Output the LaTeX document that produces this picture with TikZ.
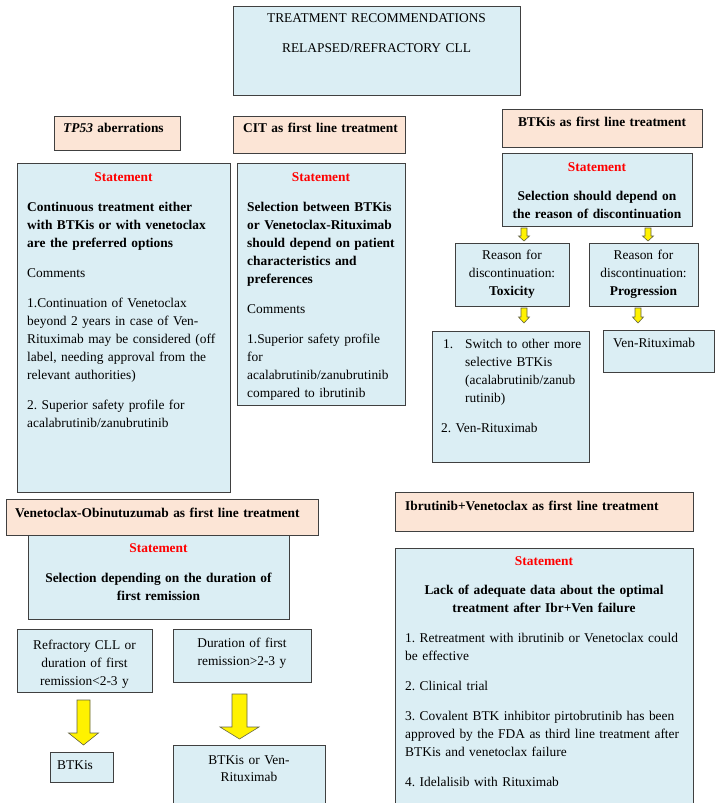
\documentclass[tikz,border=0pt]{standalone}
\usepackage{fontspec}
\setmainfont{Liberation Serif}
\usetikzlibrary{calc}
\frenchspacing
\definecolor{boxblue}{RGB}{219,238,244}
\definecolor{boxpeach}{RGB}{252,229,214}
\definecolor{edgecol}{RGB}{64,64,64}
\definecolor{arrowedge}{RGB}{100,100,70}
\newcommand\yarrow[8]{% #1 x, #2 from, #3 to, #4 top gap, #5 tip gap, #6 half shaft, #7 half head, #8 head length
  \draw[yarr] let \p1=(#2.south), \p2=(#3.north) in
   ({#1pt-#6pt},{\y1-#4pt}) -- ({#1pt+#6pt},{\y1-#4pt}) -- ({#1pt+#6pt},{\y2+#5pt+#8pt})
   -- ({#1pt+#7pt},{\y2+#5pt+#8pt}) -- ({#1pt},{\y2+#5pt}) -- ({#1pt-#7pt},{\y2+#5pt+#8pt})
   -- ({#1pt-#6pt},{\y2+#5pt+#8pt}) -- cycle;}
\begin{document}
\begin{tikzpicture}[x=1pt,y=-1pt,
 bx/.style={draw=edgecol, line width=1pt, rectangle, inner sep=0pt, anchor=north west, fill=boxblue},
 hd/.style={bx, fill=boxpeach},
 txt/.style={inner sep=0pt, font=\fontsize{13.4}{18}\selectfont\frenchspacing, text=black},
 tl/.style={txt, anchor=base west, align=left, text width=#1},
 tc/.style={txt, anchor=base, align=center, text width=#1},
 red/.style={text=red, font=\fontsize{13.4}{18}\selectfont\bfseries},
 yarr/.style={draw=arrowedge, line width=0.6pt, fill=yellow, line join=miter}
]
\clip (0,0) rectangle (720,803);
\fill[white] (0,0) rectangle (720,803);

% title
\node[bx, minimum width=287pt, minimum height=89pt] (title) at (233,6) {};
\node[tc=280pt] (titletxt) at (376.5,22.5) {TREATMENT RECOMMENDATIONS\\[12pt]RELAPSED/REFRACTORY CLL};

% TP53
\node[hd, minimum width=126pt, minimum height=34pt] (h1) at (54,116) {};
\node[tl=120pt] (h1t) at (63,132.5) {\bfseries\textit{TP53} aberrations};
\node[bx, minimum width=213pt, minimum height=329pt] (s1) at (17,163) {};
\node[tc=200pt, red] (s1a) at (123.5,181.5) {Statement};
\node[tl=205pt] (s1b) at (27,211.5) {\bfseries Continuous treatment either\\with BTKis or with venetoclax\\are the preferred options\\[12pt]\mdseries Comments\\[12pt]1.Continuation of Venetoclax\\beyond 2 years in case of Ven-\\Rituximab may be considered (off\\label, needing approval from the\\relevant authorities)\\[12pt]2. Superior safety profile for\\acalabrutinib/zanubrutinib};

% CIT
\node[hd, minimum width=172pt, minimum height=37pt] (h2) at (233,116) {};
\node[tl=165pt] (h2t) at (243,132.5) {\bfseries CIT as first line treatment};
\node[bx, minimum width=168pt, minimum height=242pt] (s2) at (237,163) {};
\node[tc=160pt, red] (s2a) at (321,181.5) {Statement};
\node[tl=160pt] (s2b) at (247,211.5) {\bfseries Selection between BTKis\\or Venetoclax-Rituximab\\should depend on patient\\characteristics and\\preferences\\[12pt]\mdseries Comments\\[12pt]1.Superior safety profile\\for\\acalabrutinib/zanubrutinib\\compared to ibrutinib};

% BTKi
\node[hd, minimum width=200pt, minimum height=38pt] (h3) at (502,109) {};
\node[tc=195pt] (h3t) at (602,126.5) {\bfseries BTKis as first line treatment};
\node[bx, minimum width=190pt, minimum height=73pt] (s3) at (502,153) {};
\node[tc=188pt, red] (s3a) at (597,171.5) {Statement};
\node[tc=188pt] (s3b) at (597,200.5) {\bfseries Selection should depend on\\the reason of discontinuation};

\node[bx, minimum width=114pt, minimum height=63pt] (tox) at (455,243) {};
\node[tc=112pt] (toxt) at (512,259.5) {Reason for\\discontinuation:\\\textbf{Toxicity}};
\node[bx, minimum width=109pt, minimum height=63pt] (prog) at (589,243) {};
\node[tc=108pt] (progt) at (643.5,259.5) {Reason for\\discontinuation:\\\textbf{Progression}};

\node[bx, minimum width=157pt, minimum height=131pt] (sw) at (432,331) {};
\node[tl=20pt] (sw1) at (443,348.5) {1.};
\node[tl=122pt] (sw2) at (465,348.5) {Switch to other more\\selective BTKis\\(acalabrutinib/zanub\\rutinib)};
\node[tl=140pt] (sw3) at (441,432.5) {2. Ven-Rituximab};
\node[bx, minimum width=111pt, minimum height=42pt] (vr) at (603,330) {};
\node[tl=100pt] (vrt) at (613,347.5) {Ven-Rituximab};

\yarrow{524}{s3}{tox}{1}{2}{3}{5.5}{5}
\yarrow{648}{s3}{prog}{1}{2}{3}{5.5}{5}
\yarrow{524}{tox}{sw}{1}{8}{3}{5.5}{6}
\yarrow{638}{prog}{vr}{1}{7}{3}{5.5}{6}

% Venetoclax-Obinutuzumab
\node[bx, minimum width=261pt, minimum height=84pt] (s4) at (28,535) {};
\node[hd, minimum width=312pt, minimum height=36pt] (h4) at (6,499) {};
\node[tl=305pt] (h4t) at (15,517.5) {\bfseries Venetoclax-Obinutuzumab as first line treatment};
\node[tc=250pt, red] (s4a) at (158.5,552.5) {Statement};
\node[tc=258pt] (s4b) at (158.5,582.5) {\bfseries Selection depending on the duration of\\first remission};

\node[bx, minimum width=135pt, minimum height=63pt] (refr) at (17,629) {};
\node[tc=132pt] (refrt) at (84.5,649.5) {Refractory CLL or\\duration of first\\remission<2-3 y};
\node[bx, minimum width=138pt, minimum height=53pt] (dur) at (173,629) {};
\node[tc=132pt] (durt) at (242,647.5) {Duration of first\\remission>2-3 y};
\node[bx, minimum width=63pt, minimum height=30pt] (btk) at (50,752) {};
\node[tl=55pt] (btkt) at (57,769.5) {BTKis};
\node[bx, minimum width=152pt, minimum height=80pt] (bv) at (173,745) {};
\node[tc=145pt, font=\fontsize{13.4}{17}\selectfont] (bvt) at (249,764.5) {BTKis or Ven-\\Rituximab};

\yarrow{83.5}{refr}{btk}{7}{7}{6.5}{15}{12}
\yarrow{239.5}{dur}{bv}{11}{6}{7.5}{19.5}{12}

% Ibrutinib+Venetoclax
\node[hd, minimum width=298pt, minimum height=39pt] (h5) at (395,492) {};
\node[tl=285pt] (h5t) at (405,510.5) {\bfseries Ibrutinib+Venetoclax as first line treatment};
\node[bx, minimum width=298pt, minimum height=280pt] (s5) at (395,548) {};
\node[tc=292pt, red] (s5a) at (544,565.5) {Statement};
\node[tc=292pt] (s5b) at (544,594.5) {\bfseries Lack of adequate data about the optimal\\treatment after Ibr+Ven failure};
\node[tl=286pt] (s5c) at (405,642.5) {1. Retreatment with ibrutinib or Venetoclax could\\be effective\\[12pt]2. Clinical trial\\[12pt]3. Covalent BTK inhibitor pirtobrutinib has been\\approved by the FDA as third line treatment after\\BTKis and venetoclax failure\\[12pt]4. Idelalisib with Rituximab};
\end{tikzpicture}
\end{document}
